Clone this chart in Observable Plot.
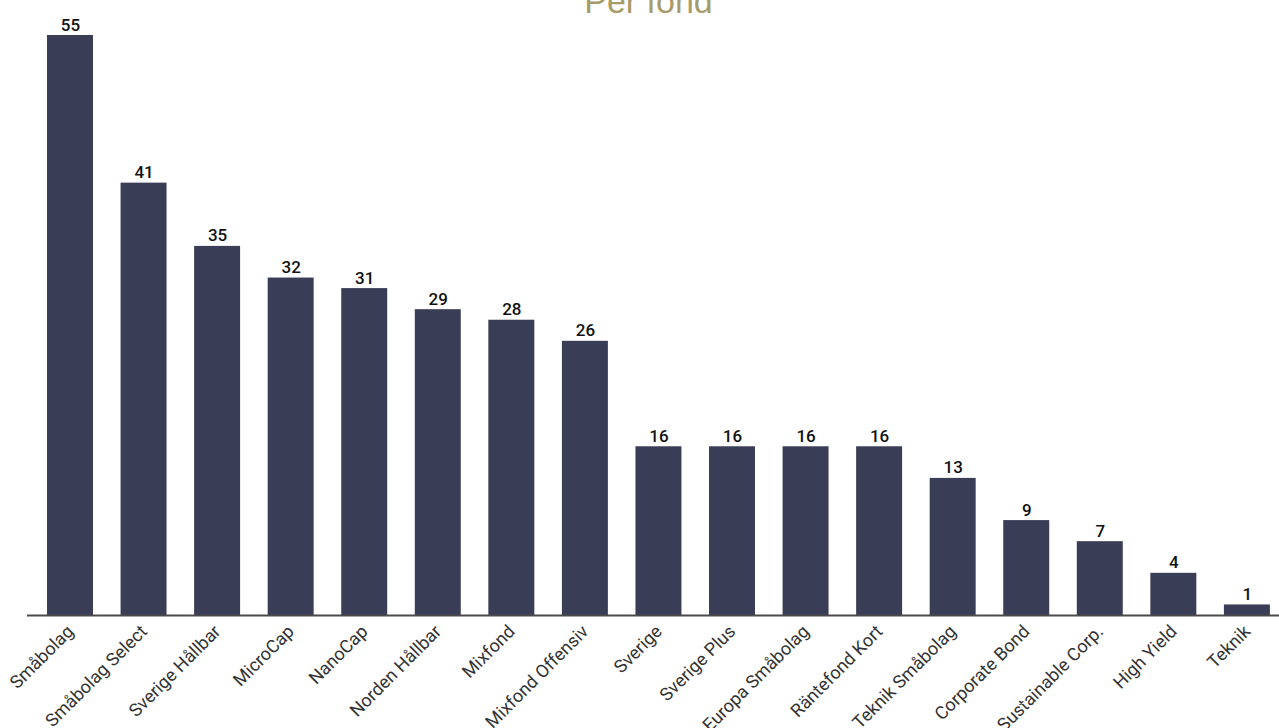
<!DOCTYPE html>
<html>
<head>
<meta charset="utf-8">
<script src="https://cdn.jsdelivr.net/npm/d3@7"></script>
<script src="https://cdn.jsdelivr.net/npm/@observablehq/plot@0.6"></script>
<style>
  html, body { margin: 0; padding: 0; background: #fff; overflow: hidden; }
  #wrap { position: relative; width: 1279px; height: 728px; }
  #title { position: absolute; left: 18px; width: 1261px; top: -16px; text-align: center;
    font-family: "Liberation Sans", Arial, sans-serif; font-size: 34px; line-height: 34px; color: #a89b6a; z-index: 2; }
  #chart { position: absolute; left: 0; top: 0; }
</style>
</head>
<body>
<div id="wrap">
  <div id="title">Per fond</div>
  <div id="chart"></div>
</div>
<script>
const categories = ["Småbolag", "Småbolag Select", "Sverige Hållbar", "MicroCap", "NanoCap", "Norden Hållbar", "Mixfond", "Mixfond Offensiv", "Sverige", "Sverige Plus", "Europa Småbolag", "Räntefond Kort", "Teknik Småbolag", "Corporate Bond", "Sustainable Corp.", "High Yield", "Teknik"];
const values = [55, 41, 35, 32, 31, 29, 28, 26, 16, 16, 16, 16, 13, 9, 7, 4, 1];

const data = categories.map((c, i) => ({fund: c, value: values[i]}));

const chart = Plot.plot({
  width: 1279,
  height: 728,
  marginTop: 35,
  marginBottom: 113,
  marginLeft: 27,
  marginRight: 0,
  style: {fontFamily: "Roboto, sans-serif", background: "#fff", color: "#333"},
  x: {type: "band", domain: categories, paddingInner: 0.375, paddingOuter: 0.198, align: 0.687, round: false, label: null},
  y: {domain: [0, 55], axis: null},
  marks: [
    Plot.barY(data, {x: "fund", y: "value", fill: "#3a3d56"}),
    Plot.ruleY([0], {stroke: "#4a4a4a", strokeWidth: 2}),
    Plot.text(data, {x: "fund", y: "value", text: d => String(d.value), dy: -5, lineAnchor: "bottom",
      fontSize: 17, fontWeight: 500, fill: "#111"}),
    Plot.axisX({tickRotate: -45, tickSize: 0, tickPadding: 13, fontSize: 18, fill: "#333", label: null})
  ]
});
document.getElementById("chart").appendChild(chart);
</script>
</body>
</html>
